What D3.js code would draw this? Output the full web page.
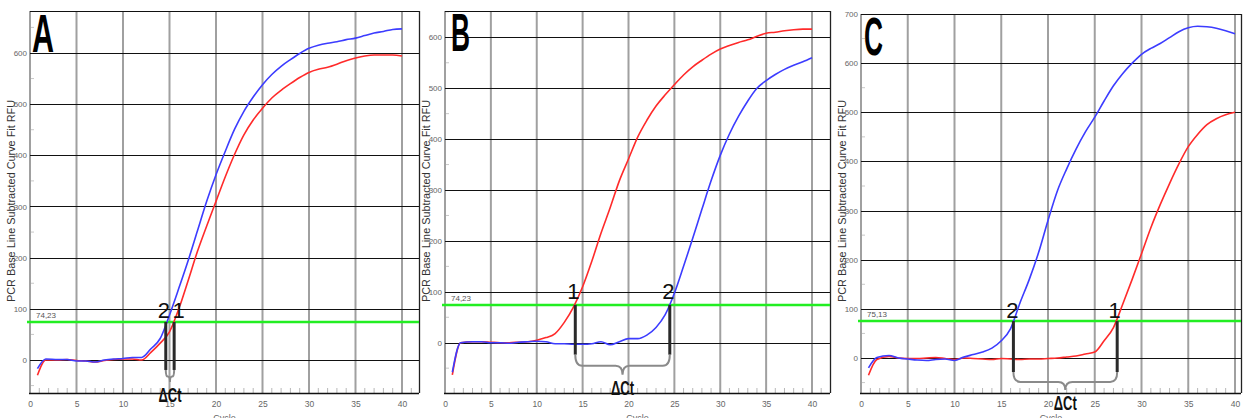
<!DOCTYPE html>
<html>
<head>
<meta charset="utf-8">
<script src="https://cdn.jsdelivr.net/npm/d3@7"></script>
<style>
  body { margin: 0; background: #fff; }
</style>
</head>
<body>
<div id="chart"></div>
<script>
// cycle positions where the curves were read
const cycles = [0.8, 1.7, 3, 4, 5, 6, 7, 8, 9, 10, 11, 12, 13, 14, 15, 16, 17, 18, 19, 20,
  21, 22, 23, 24, 25, 26, 27, 28, 29, 30, 31, 32, 33, 34, 35, 36, 37, 38, 39, 40]

// panel A
const blueA = [-17, 2, 1, 1, -2, -2, -4, 0, 2, 3, 5, 5, 22, 42, 88, 140, 194, 252, 310, 362,
  408, 451, 486, 514, 538, 558, 574, 587, 599, 609, 615, 619, 622, 626, 629, 634, 639, 642, 646, 647]
const redA = [-30, 0, 0, 1, -1, -2, -4, -1, 1, 2, 2, 0, 15, 33, 55, 100, 155, 212, 262, 310,
  358, 402, 440, 469, 492, 512, 527, 540, 552, 562, 568, 572, 578, 585, 590, 594, 596, 596, 596, 594]

// panel B
const blueB = [-58, 0, 2, 2, 0, 0, -1, 1, 2, 3, 2, -2, -2, -3, -3, -2, 2, -4, 2, 8,
  8, 15, 30, 55, 97, 150, 205, 262, 318, 368, 410, 445, 475, 500, 515, 527, 537, 545, 552, 560]
const redB = [-63, 0, 2, 2, 1, 0, 0, 1, 2, 5, 10, 18, 40, 70, 110, 160, 215, 265, 318, 361,
  404, 437, 465, 487, 507, 526, 542, 555, 567, 577, 584, 590, 595, 602, 608, 610, 613, 615, 616, 616]

// panel C
const blueC = [-20, 1, 5, 0, -2, -4, -5, -3, -2, -5, 2, 7, 12, 20, 35, 60, 112, 160, 215, 280,
  340, 385, 425, 460, 490, 523, 554, 579, 600, 618, 630, 640, 652, 664, 672, 675, 674, 671, 666, 660]
const redC = [-35, -3, 3, 0, -1, -1, 0, 1, -1, -3, 0, -1, -2, -3, -1, -2, -3, -2, -2, -1,
  0, 2, 4, 8, 12, 35, 62, 110, 160, 212, 265, 312, 355, 395, 430, 455, 475, 487, 495, 500]

// thresholds and Ct marks
const thresholds = [74.23, 74.23, 75.13]
const thresholdLabels = ['74,23', '74,23', '75,13']
const ctA = [14.6, 15.5]
const ctB = [14.2, 24.5]
const ctC = [16.3, 27.4]
const ctLabelsA = ['2', '1']
const ctLabelsB = ['1', '2']
const ctLabelsC = ['2', '1']
const panelLetters = ['A', 'B', 'C']

const xTicks = [0, 5, 10, 15, 20, 25, 30, 35, 40]
const yTicksAB = [0, 100, 200, 300, 400, 500, 600]
const yTicksC = [0, 100, 200, 300, 400, 500, 600, 700]
const yTitle = 'PCR Base Line Subtracted Curve Fit RFU'
const xTitle = 'Cycle'

const W = 1243, H = 418

// layout of the three panels (pixels)
const panels = [
  { left: 30, x40: 402, right: 419, top: 11, bottom: 393, yMin: -64.5, yMax: 682,
    blue: blueA, red: redA, ct: ctA, ctLabels: ctLabelsA, labelDx: [-2, 4.5], labelDy: -4,
    markBottom: -19.5, braceH: 12, titleX: 15, letterX: 32, letterY: 52, letterW: 22, yTicks: yTicksAB },
  { left: 445, x40: 812, right: 830, top: 11, bottom: 393, yMin: -98.8, yMax: 651.7,
    blue: blueB, red: redB, ct: ctB, ctLabels: ctLabelsB, labelDx: [-2, -1.5], labelDy: -6,
    markBottom: -23.5, braceH: 20, titleX: 430, letterX: 451, letterY: 51, letterW: 19, yTicks: yTicksAB },
  { left: 861, x40: 1235, right: 1241, top: 14, bottom: 393, yMin: -71.2, yMax: 700,
    blue: blueC, red: redC, ct: ctC, ctLabels: ctLabelsC, labelDx: [-1, -2.5], labelDy: -3,
    markBottom: -28.5, braceH: 18, titleX: 846, letterX: 864, letterY: 55, letterW: 19, yTicks: yTicksC }
]

const svg = d3.select('#chart').append('svg')
  .attr('width', W)
  .attr('height', H)
  .style('background', '#fff')

function bracePath(x1, x2, y0, h) {
  const cx = (x1 + x2) / 2
  const ym = y0 + h * 0.55
  const yt = y0 + h
  const r = Math.min(7, (x2 - x1) / 4)
  return 'M' + x1 + ',' + y0 +
    ' Q' + x1 + ',' + ym + ' ' + (x1 + r) + ',' + ym +
    ' L' + (cx - r) + ',' + ym +
    ' Q' + cx + ',' + ym + ' ' + cx + ',' + yt +
    ' Q' + cx + ',' + ym + ' ' + (cx + r) + ',' + ym +
    ' L' + (x2 - r) + ',' + ym +
    ' Q' + x2 + ',' + ym + ' ' + x2 + ',' + y0
}

panels.forEach((p, i) => {
  const g = svg.append('g')
  const x = d3.scaleLinear().domain([0, 40]).range([p.left, p.x40])
  const y = d3.scaleLinear().domain([p.yMin, p.yMax]).range([p.bottom, p.top])
  const xMax = x.invert(p.right)

  // rotated RFU title (drawn first so tick labels stay on top)
  g.append('text')
    .attr('transform', 'translate(' + p.titleX + ',' + 201 + ') rotate(-90)')
    .attr('text-anchor', 'middle')
    .attr('textLength', 202).attr('lengthAdjust', 'spacingAndGlyphs')
    .style('font-family', '"Liberation Sans", sans-serif')
    .style('font-size', '10px').style('fill', '#333')
    .text(yTitle)

  // minor ticks on cycle axis
  g.selectAll('.xminor')
    .data(d3.range(1, Math.floor(xMax) + 1))
    .enter().append('line')
    .attr('x1', d => x(d)).attr('x2', d => x(d))
    .attr('y1', p.bottom - 5).attr('y2', p.bottom)
    .style('stroke', '#b8b8b8').style('stroke-width', 1)

  // minor ticks on RFU axis
  g.selectAll('.yminor')
    .data(d3.range(-50, p.yMax, 100).filter(v => v > p.yMin))
    .enter().append('line')
    .attr('x1', p.left).attr('x2', p.left + 4)
    .attr('y1', d => y(d)).attr('y2', d => y(d))
    .style('stroke', '#c8c8c8').style('stroke-width', 1)

  // vertical grid (gray)
  g.selectAll('.vgrid')
    .data(xTicks)
    .enter().append('line')
    .attr('x1', d => x(d)).attr('x2', d => x(d))
    .attr('y1', p.top).attr('y2', p.bottom)
    .style('stroke', '#a0a0a0').style('stroke-width', 2)

  // horizontal grid (black)
  g.selectAll('.hgrid')
    .data(p.yTicks)
    .enter().append('line')
    .attr('x1', p.left).attr('x2', p.right)
    .attr('y1', d => Math.round(y(d)) + 0.5).attr('y2', d => Math.round(y(d)) + 0.5)
    .style('stroke', '#111').style('stroke-width', 1)

  // frame: top, bottom, right
  g.append('line').attr('x1', p.left).attr('x2', p.right).attr('y1', p.top + 0.5).attr('y2', p.top + 0.5)
    .style('stroke', '#111')
  g.append('line').attr('x1', p.left - 1).attr('x2', p.right).attr('y1', p.bottom + 0.5).attr('y2', p.bottom + 0.5)
    .style('stroke', '#111').style('stroke-width', 1.3)
  g.append('line').attr('x1', p.right + 0.5).attr('x2', p.right + 0.5).attr('y1', p.top).attr('y2', p.bottom)
    .style('stroke', '#222').style('stroke-width', 1.3)

  // axis labels via d3 axes
  const yAxis = g.append('g')
    .attr('transform', 'translate(' + p.left + ',0)')
    .call(d3.axisLeft(y).tickValues(p.yTicks).tickSize(0).tickPadding(3))
  yAxis.select('.domain').remove()
  yAxis.selectAll('text')
    .style('font-family', '"Liberation Sans Narrow", "Liberation Sans", sans-serif')
    .style('font-size', '8px').style('fill', '#666')

  const xAxis = g.append('g')
    .attr('transform', 'translate(0,' + p.bottom + ')')
    .call(d3.axisBottom(x).tickValues(xTicks).tickSize(0).tickPadding(8))
  xAxis.select('.domain').remove()
  xAxis.selectAll('text')
    .style('font-family', '"Liberation Sans Narrow", "Liberation Sans", sans-serif')
    .style('font-size', '8.5px').style('fill', '#666')

  g.append('text')
    .attr('x', (p.left + p.right) / 2).attr('y', 421)
    .attr('text-anchor', 'middle')
    .style('font-family', '"Liberation Sans", sans-serif')
    .style('font-size', '9px').style('fill', '#666')
    .text(xTitle)

  // threshold
  const ty = y(thresholds[i])
  g.append('line')
    .attr('x1', p.left - 3).attr('x2', p.right)
    .attr('y1', ty).attr('y2', ty)
    .style('stroke', '#22ee22').style('stroke-width', 2.5)
  g.append('text')
    .attr('x', p.left + 6).attr('y', ty - 4)
    .style('font-family', '"Liberation Sans Narrow", "Liberation Sans", sans-serif')
    .style('font-size', '8px').style('fill', '#555')
    .text(thresholdLabels[i])

  // curves
  const line = d3.line()
    .x(d => x(d[0]))
    .y(d => y(d[1]))
    .curve(d3.curveMonotoneX)
  g.append('path')
    .datum(d3.zip(cycles, p.red))
    .attr('d', line)
    .style('fill', 'none').style('stroke', '#ff2a2a').style('stroke-width', 1.6)
  g.append('path')
    .datum(d3.zip(cycles, p.blue))
    .attr('d', line)
    .style('fill', 'none').style('stroke', '#3c3cff').style('stroke-width', 1.6)

  // Ct marks
  g.selectAll('.ct')
    .data(p.ct)
    .enter().append('line')
    .attr('x1', d => x(d)).attr('x2', d => x(d))
    .attr('y1', ty).attr('y2', y(p.markBottom))
    .style('stroke', '#2a2a2a').style('stroke-width', 3)

  g.selectAll('.ctlabel')
    .data(p.ct)
    .enter().append('text')
    .attr('x', (d, j) => x(d) + p.labelDx[j])
    .attr('y', ty + p.labelDy)
    .attr('text-anchor', 'middle')
    .style('font-family', '"Liberation Sans Narrow", "Liberation Sans", sans-serif')
    .style('font-size', '22px').style('fill', '#111')
    .text((d, j) => p.ctLabels[j])

  const bx1 = x(p.ct[0]), bx2 = x(p.ct[1])
  const by = y(p.markBottom)
  g.append('path')
    .attr('d', bracePath(bx1, bx2, by, p.braceH))
    .style('fill', 'none').style('stroke', '#8a8a8a').style('stroke-width', 2)

  g.append('text')
    .attr('x', (bx1 + bx2) / 2).attr('y', by + p.braceH + 20)
    .attr('text-anchor', 'middle')
    .attr('textLength', 23).attr('lengthAdjust', 'spacingAndGlyphs')
    .style('font-family', '"Liberation Sans Narrow", "Liberation Sans", sans-serif')
    .style('font-weight', 'bold')
    .style('font-size', '21px').style('fill', '#111')
    .text('\u0394Ct')

  // panel letter
  g.append('text')
    .attr('x', p.letterX).attr('y', p.letterY)
    .attr('textLength', p.letterW).attr('lengthAdjust', 'spacingAndGlyphs')
    .style('font-family', '"Liberation Sans Narrow", "Liberation Sans", sans-serif')
    .style('font-weight', 'bold')
    .style('font-size', '54px').style('fill', '#000')
    .text(panelLetters[i])
})
</script>
</body>
</html>
